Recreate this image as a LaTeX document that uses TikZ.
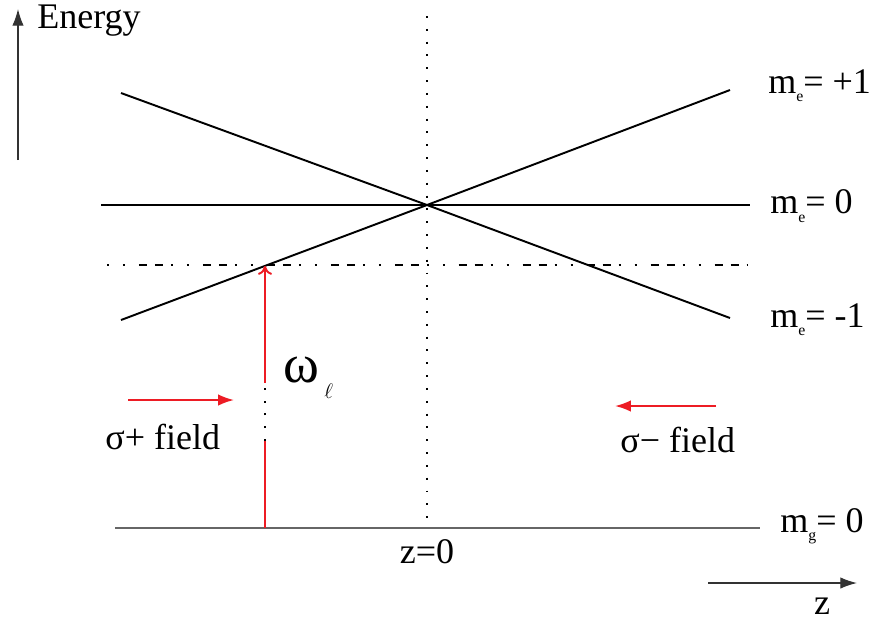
\documentclass[tikz,border=0pt]{standalone}
\usepackage{fontspec}
\setmainfont{Liberation Serif}
\usetikzlibrary{arrows.meta}
\definecolor{laserred}{RGB}{237,28,36}
\newcommand{\msub}[1]{m\raisebox{-0.5ex}{\fontsize{9}{9}\selectfont #1}}
\begin{document}
\begin{tikzpicture}[x=0.02cm, y=-0.02cm,
    level/.style = {line width=1.1pt},
    lab/.style = {font=\fontsize{20.5}{23}\selectfont, inner sep=0pt},
    axis/.style = {line width=0.75pt, black!80, -{Latex[length=9.5pt, width=6.5pt]}},
    beam/.style = {line width=1.1pt, laserred},
    dotline/.style = {line width=1.1pt, dash pattern=on 1.1pt off 6.2pt}]
    \useasboundingbox (0,0) rectangle (872,630);

    % Axes
    \coordinate (eBot) at (18,160);
    \coordinate (eTop) at (18,9);
    \draw[axis] (eBot) -- (eTop);
    \node[lab, anchor=base west] (energy) at (37,28) {Energy};
    \coordinate (zL) at (708,583);
    \coordinate (zR) at (857,583);
    \draw[axis] (zL) -- (zR);
    \node[lab] (zlab) at (822,606) {z};

    % Centre line z=0
    \coordinate (cTop) at (427,16);
    \coordinate (cBot) at (427,528);
    \coordinate (cross) at (427,205);
    \draw[dotline] (cTop) -- (cBot);
    \node[lab] (zero) at (427,552) {z=0};

    % Excited levels
    \coordinate (upL) at (121,320);
    \coordinate (upR) at (730,90);
    \coordinate (dnL) at (121,93);
    \coordinate (dnR) at (730,318);
    \coordinate (flatL) at (101,205);
    \coordinate (flatR) at (750,205);
    \draw[level] (dnL) -- (cross) -- (dnR);
    \draw[level] (upL) -- (cross) -- (upR);
    \draw[level] (flatL) -- (flatR);
    \node[lab, anchor=west] (mplus) at (768,86) {\msub{e}= +1};
    \node[lab, anchor=west] (mzero) at (770,206) {\msub{e}= 0};
    \node[lab, anchor=west] (mminus) at (770,320) {\msub{e}= -1};

    % Laser frequency
    \coordinate (dashL) at (107,265);
    \coordinate (dashR) at (750,265);
    \draw[line width=1.1pt, dash pattern=on 1.1pt off 8pt on 1.1pt off 8pt on 4.6pt off 4.5pt on 4.6pt off 4.5pt]
        (dashL) -- (dashR);

    % Ground level
    \coordinate (gL) at (115,528);
    \coordinate (gR) at (760,528);
    \draw[line width=0.75pt, black!60] (gL) -- (gR);
    \node[lab, anchor=west] (mg) at (780,526) {\msub{g}= 0};

    % Transition arrow
    \coordinate (foot) at (265,528);
    \coordinate (gapLo) at (265,441);
    \coordinate (gapHi) at (265,383);
    \coordinate (hit) at (265,266);
    \draw[beam] (foot) -- (gapLo);
    \draw[dotline] (gapLo) -- (gapHi);
    \draw[beam, -{To[length=5pt, width=8pt]}] (gapHi) -- (hit);
    \node[inner sep=0pt, anchor=west] (omega) at (283,378)
        {\fontsize{31}{32}\selectfont ω\hspace{3pt}\raisebox{-9pt}{\fontsize{13}{13}\selectfont$\ell$}};

    % Beams
    \coordinate (plusL) at (128,400);
    \coordinate (plusR) at (234,400);
    \draw[beam, -{Latex[length=9pt, width=6.5pt]}] (plusL) -- (plusR);
    \node[lab, anchor=west] (splus) at (105,437) {σ+ field};
    \coordinate (minusR) at (716,406);
    \coordinate (minusL) at (615,406);
    \draw[beam, -{Latex[length=9pt, width=6.5pt]}] (minusR) -- (minusL);
    \node[lab, anchor=west] (sminus) at (620,440) {σ− field};
\end{tikzpicture}
\end{document}
